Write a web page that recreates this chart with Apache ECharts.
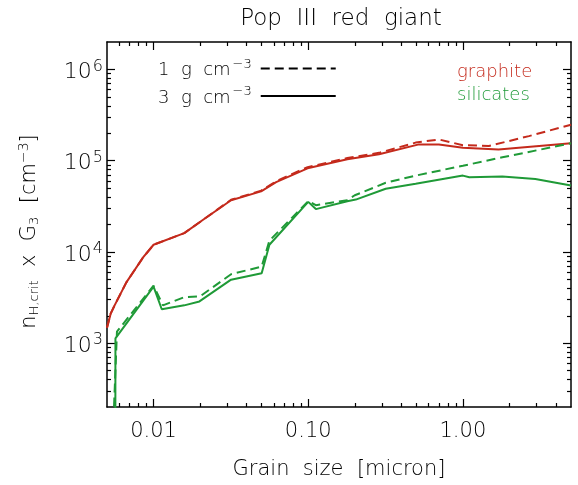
<!DOCTYPE html>
<html><head><meta charset="utf-8">
<script src="https://cdn.jsdelivr.net/npm/echarts@6/dist/echarts.min.js"></script>
<style>html,body{margin:0;padding:0;background:#fff}#c{width:578px;height:485px}</style>
</head><body><div id="c"></div>
<script>
// ---- data ----
const xMajorTicks = [0.01, 0.1, 1];
const xMinorTicks = [0.006,0.007,0.008,0.009,0.02,0.03,0.04,0.05,0.06,0.07,0.08,0.09,0.2,0.3,0.4,0.5,0.6,0.7,0.8,0.9,2,3,4];
const yMajorTicks = [1e3, 1e4, 1e5, 1e6];
const yMinorTicks = [300,400,500,600,700,800,900,2e3,3e3,4e3,5e3,6e3,7e3,8e3,9e3,2e4,3e4,4e4,5e4,6e4,7e4,8e4,9e4,2e5,3e5,4e5,5e5,6e5,7e5,8e5,9e5];

// graphite, 3 g cm^-3 (solid)
const graphite3 = [[0.005,1480],[0.00528,2110],[0.0056,2600],[0.00667,4640],[0.00853,8650],[0.01,12000],[0.0158,16100],[0.0208,22400],[0.0317,36900],[0.0496,46100],[0.062,58200],[0.099,82600],[0.179,104000],[0.287,118000],[0.52,151000],[0.70,151000],[1.0,139000],[1.7,133000],[5,155000]];
// graphite, 1 g cm^-3 (dashed)
const graphite1 = [[0.005,1480],[0.00528,2110],[0.0056,2600],[0.00667,4640],[0.00853,8650],[0.01,12000],[0.0158,16100],[0.0208,22400],[0.0317,37300],[0.0496,47000],[0.062,59500],[0.099,85000],[0.179,107000],[0.287,122000],[0.495,158000],[0.70,171000],[1.0,148000],[1.47,145000],[2.67,186000],[5,248000]];
// silicates, 3 g cm^-3 (solid)
const silicates3 = [[0.00566,100],[0.00567,1130],[0.01,4170],[0.0113,2355],[0.0158,2600],[0.0198,2870],[0.0317,4970],[0.05,5850],[0.0561,12000],[0.1,35400],[0.112,29500],[0.179,36000],[0.203,37500],[0.317,49300],[0.495,55800],[1.0,68700],[1.1,66000],[1.8,67000],[2.94,63200],[5,53600]];
// silicates, 1 g cm^-3 (dashed)
const silicates1 = [[0.00546,100],[0.0058,1340],[0.01,4270],[0.0115,2600],[0.0158,3200],[0.02,3270],[0.0317,5700],[0.05,6920],[0.0561,13300],[0.1,36000],[0.112,32600],[0.179,36900],[0.2,41800],[0.317,57300],[0.495,68700],[1.0,88100],[1.8,109000],[5,155000]];

const densityLabels = ['1 g cm', '3 g cm'];
const materialLabels = ['graphite', 'silicates'];

// ---- styling ----
const FONT = 'DejaVu Sans';
const FW = 200;
const RED = '#c42a1c';
const GREEN = '#1f9a37';
const DASH = [9, 5];

function xAxisDef(pos, major, withLabels) {
  return {
    type: 'log', logBase: 10, min: 0.005, max: 5, position: pos,
    splitLine: { show: false },
    axisLine: { show: major, onZero: false, lineStyle: { color: '#000', width: 1.5 } },
    axisTick: { show: true, inside: true, length: major ? 8 : 4, customValues: major ? xMajorTicks : xMinorTicks,
      lineStyle: { color: '#000', width: 1.2 } },
    axisLabel: { show: withLabels, customValues: xMajorTicks, margin: 14,
      formatter: v => Number(v).toFixed(2), color: '#000', fontFamily: FONT, fontWeight: FW, fontSize: 21 },
    name: withLabels ? 'Grain  size  [micron]' : '',
    nameLocation: 'middle', nameGap: 52,
    nameTextStyle: { color: '#000', fontFamily: FONT, fontWeight: FW, fontSize: 21 }
  };
}
function yAxisDef(pos, major, withLabels) {
  return {
    type: 'log', logBase: 10, min: 200, max: 2e6, position: pos,
    splitLine: { show: false },
    axisLine: { show: major, onZero: false, lineStyle: { color: '#000', width: 1.5 } },
    axisTick: { show: true, inside: true, length: major ? 8 : 4, customValues: major ? yMajorTicks : yMinorTicks,
      lineStyle: { color: '#000', width: 1.2 } },
    axisLabel: { show: withLabels, customValues: yMajorTicks, margin: 4,
      formatter: v => '{b|10}{s|' + Math.round(Math.log10(v)) + '}',
      rich: {
        b: { color: '#000', fontFamily: FONT, fontWeight: FW, fontSize: 22, padding: [6, 0, 0, 0] },
        s: { color: '#000', fontFamily: FONT, fontWeight: FW, fontSize: 16, padding: [0, 0, 6, 1] }
      } },
    name: withLabels ? '{n|n}{sub|H,crit}{n|  x  G}{sub|3}{n|  [cm}{sup|−3}{n|]}' : '',
    nameLocation: 'middle', nameGap: 64, nameRotate: 90,
    nameTextStyle: {
      padding: [0, 14, 0, 0],
      rich: {
        n: { color: '#000', fontFamily: FONT, fontWeight: FW, fontSize: 21 },
        sub: { color: '#000', fontFamily: FONT, fontWeight: FW, fontSize: 13, padding: [10, 0, 0, 0] },
        sup: { color: '#000', fontFamily: FONT, fontWeight: FW, fontSize: 14, padding: [0, 0, 12, 0] }
      }
    }
  };
}

const chart = echarts.init(document.getElementById('c'), null, { renderer: 'canvas' });
chart.setOption({
  animation: false,
  backgroundColor: '#fff',
  title: {
    text: 'Pop  III  red  giant', left: 336, top: 3, textAlign: 'center',
    textStyle: { color: '#000', fontFamily: FONT, fontSize: 23, fontWeight: FW }
  },
  grid: { left: 107, right: 7, top: 42, bottom: 74, containLabel: false },
  xAxis: [xAxisDef('bottom', true, true), xAxisDef('bottom', false, false), xAxisDef('top', true, false), xAxisDef('top', false, false)],
  yAxis: [yAxisDef('left', true, true), yAxisDef('left', false, false), yAxisDef('right', true, false), yAxisDef('right', false, false)],
  legend: {
    orient: 'vertical', left: 153, top: 53, align: 'right', itemWidth: 75, itemHeight: 12, itemGap: 6,
    data: densityLabels,
    itemStyle: { opacity: 0 },
    formatter: name => '{t|' + name.replace(/ /g, '  ') + '}{s|−3}',
    textStyle: {
      rich: {
        t: { color: '#000', fontFamily: FONT, fontWeight: FW, fontSize: 18, padding: [4, 0, 0, 0] },
        s: { color: '#000', fontFamily: FONT, fontWeight: FW, fontSize: 13, padding: [0, 4, 8, 2] }
      }
    }
  },
  graphic: [
    { type: 'text', left: 457, top: 63, style: { text: materialLabels[0], fill: RED, font: FW + ' 18px "DejaVu Sans"' } },
    { type: 'text', left: 457, top: 86, style: { text: materialLabels[1], fill: GREEN, font: FW + ' 18px "DejaVu Sans"' } }
  ],
  series: [
    { name: densityLabels[0], type: 'line', data: [], symbol: 'none', color: '#000', lineStyle: { color: '#000', width: 2, type: DASH } },
    { name: densityLabels[1], type: 'line', data: [], symbol: 'none', color: '#000', lineStyle: { color: '#000', width: 2, type: 'solid' } },
    { name: 'graphite 3', type: 'line', data: graphite3, symbol: 'none', lineStyle: { color: RED, width: 2 } },
    { name: 'graphite 1', type: 'line', data: graphite1, symbol: 'none', lineStyle: { color: RED, width: 2, type: DASH } },
    { name: 'silicates 3', type: 'line', data: silicates3, symbol: 'none', lineStyle: { color: GREEN, width: 2 } },
    { name: 'silicates 1', type: 'line', data: silicates1, symbol: 'none', lineStyle: { color: GREEN, width: 2, type: DASH } }
  ]
});
</script></body></html>
